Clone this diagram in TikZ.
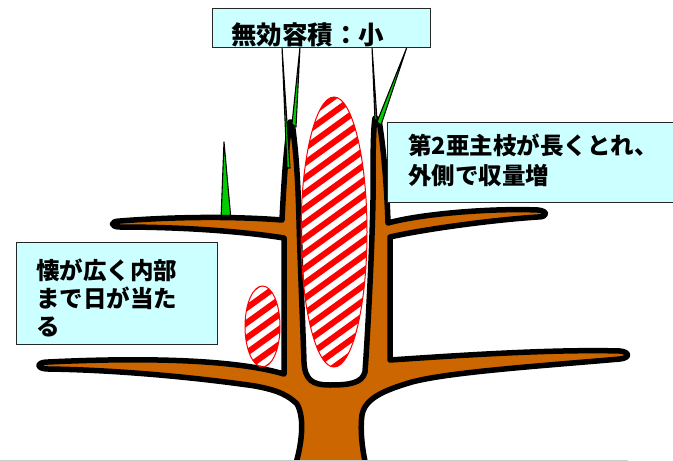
\documentclass[tikz,border=0pt]{standalone}
\usepackage{fontspec}
\newfontfamily\jpfont{Noto Sans CJK JP}
\definecolor{barkbrown}{RGB}{204,102,0}
\definecolor{shootgreen}{RGB}{0,204,0}
\definecolor{notecyan}{RGB}{204,255,255}
\begin{document}
\begin{tikzpicture}[x=1pt,y=-1pt,
  tree/.style={fill=barkbrown, draw=black, line width=5.5pt, line join=round},
  shoot/.style={fill=shootgreen, draw=black, line width=1.1pt, line join=round},
  notebox/.style={draw=black!85, fill=notecyan, line width=0.9pt, inner sep=0pt, anchor=north west},
  label/.style={font=\jpfont\bfseries\fontsize{23.5}{28}\selectfont, anchor=base west, inner sep=0pt},
  biglabel/.style={label, font=\jpfont\bfseries\fontsize{25.5}{30}\selectfont},
  sunzone/.style={draw=red, line width=1pt},
  stripe/.style={red, line width=6pt}]

\useasboundingbox (0,0) rectangle (673,461);
\fill[white] (0,0) rectangle (673,461);

% spur on the upper-left branch
\path[shoot] (224,142) -- (231,220) -- (221,220) -- cycle;

% tree outline: trunk, two side branches each side, two upright stems
\path[tree] (294,470)
  .. controls (302,445) and (305,418) .. (297,404)
  .. controls (285,392) and (270,389) .. (255,386)
  .. controls (200,378) and (120,370) .. (48,369)
  .. controls (36,369) and (36,362) .. (48,362)
  .. controls (130,358) and (230,358) .. (284,374)
  -- (284,238)
  .. controls (240,231) and (180,227) .. (120,227)
  .. controls (110,227) and (110,221) .. (120,221)
  .. controls (170,217) and (230,216) .. (282,220)
  .. controls (284,180) and (286,150) .. (290,122)
  -- (292,122)
  .. controls (296,150) and (298,180) .. (299,220)
  .. controls (300,260) and (303,330) .. (304,362)
  .. controls (305,380) and (312,385) .. (330,385)
  .. controls (350,385) and (362,383) .. (365,372)
  .. controls (368,330) and (372,250) .. (373,200)
  .. controls (373,160) and (373,130) .. (375,118)
  -- (379,120)
  .. controls (384,150) and (387,190) .. (388,223)
  .. controls (420,214) and (490,208) .. (538,210)
  .. controls (548,211) and (548,217) .. (538,217)
  .. controls (490,220) and (420,230) .. (390,237)
  -- (390,360)
  .. controls (450,356) and (550,349) .. (620,351)
  .. controls (630,352) and (630,358) .. (620,359)
  .. controls (540,366) and (450,372) .. (412,382)
  .. controls (385,390) and (365,398) .. (362,415)
  .. controls (360,430) and (362,450) .. (367,470)
  -- cycle;

% sunlit zones with red hatching
\begin{scope}
  \clip (334,232) ellipse [x radius=33pt, y radius=135pt];
  \foreach \k in {-12,...,12}
    \draw[stripe] (294,232+\k*15+29) -- (374,232+\k*15-29);
\end{scope}
\draw[sunzone] (334,232) ellipse [x radius=33pt, y radius=135pt];

\begin{scope}
  \clip (262.5,326.5) ellipse [x radius=17.5pt, y radius=40.5pt];
  \foreach \k in {-5,...,5}
    \draw[stripe] (237.5,326.5+\k*15+18) -- (287.5,326.5+\k*15-18);
\end{scope}
\draw[sunzone] (262.5,326.5) ellipse [x radius=17.5pt, y radius=40.5pt];

% shoots at the stem tops
\path[shoot] (282,47) -- (290,168) -- (287,168) -- cycle;
\path[shoot] (300,47) -- (296,127) -- (292,124) -- cycle;
\path[shoot] (372,47) -- (377,120) -- (375,120) -- cycle;
\path[shoot] (407,47) -- (381,125) -- (377,122) -- cycle;

% note boxes
\node[notebox, minimum width=218pt, minimum height=39pt] (topbox) at (212,8) {};
\node[biglabel] (toptext) at (231,44.5) {無効容積：小};

\node[notebox, minimum width=300pt, minimum height=80pt] (rightbox) at (387,122) {};
\node[label] (rightline1) at (408,154) {第2亜主枝が長くとれ、};
\node[label] (rightline2) at (408,184) {外側で収量増};

\node[notebox, minimum width=201pt, minimum height=102pt] (leftbox) at (16,242) {};
\node[label] (leftline1) at (36,279) {懐が広く内部};
\node[label] (leftline2) at (36,307) {まで日が当た};
\node[label] (leftline3) at (36,335) {る};

% slide edge
\draw[black!20, line width=1pt] (0,460.5) -- (628,460.5);
\end{tikzpicture}
\end{document}
